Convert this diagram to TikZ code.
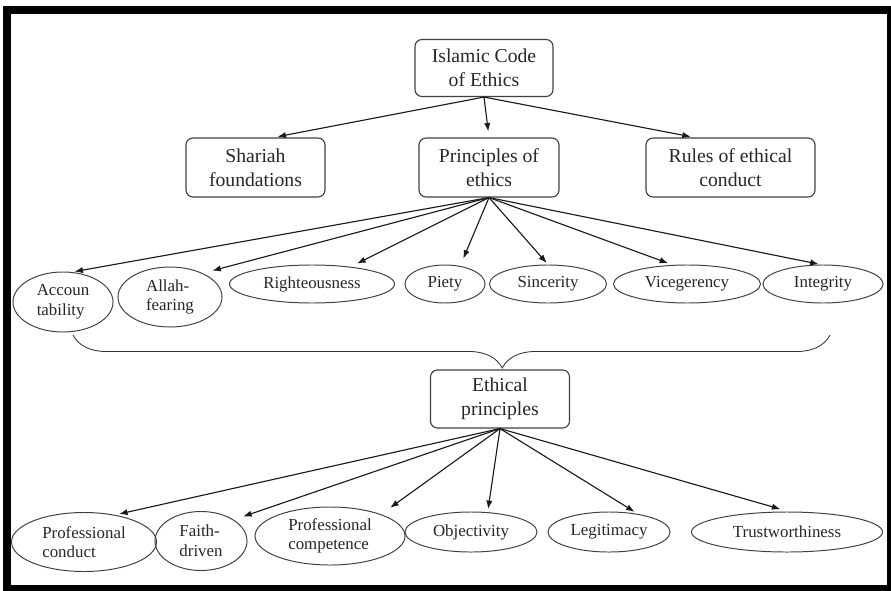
\documentclass[tikz,border=0pt]{standalone}
\usepackage{fontspec}
\setmainfont{Liberation Serif}
\usetikzlibrary{arrows.meta,decorations.pathreplacing,shapes.geometric}

\begin{document}
\begin{tikzpicture}[x=0.025cm, y=-0.025cm,
    box/.style={draw=black!75, line width=0.8pt, rounded corners=5pt, align=center,
                text=black!85, font=\fontsize{14}{17}\selectfont, inner sep=0pt},
    oval/.style={ellipse, draw=black!75, line width=0.7pt, align=left,
                 text=black!85, font=\fontsize{12}{14}\selectfont, inner sep=0pt},
    arr/.style={draw=black!90, line width=0.8pt, -{Latex[length=6pt,width=4.5pt]}}]
                \useasboundingbox (0,0) rectangle (891,590);
                \draw[line width=0.2cm] (7,10) rectangle (891,589);

                \node[box, minimum width=3.45cm, minimum height=1.425cm] (isl) at (484,68) {Islamic Code\\of Ethics};
                \node[box, minimum width=3.475cm, minimum height=1.475cm] (shar) at (255.5,167.5) {Shariah\\foundations};
                \node[box, minimum width=3.5cm, minimum height=1.475cm] (prin) at (489,167.5) {Principles of\\ethics};
                \node[box, minimum width=4.225cm, minimum height=1.475cm] (rules) at (730.5,167.5) {Rules of ethical\\conduct};

                \node[oval, minimum width=2.5cm, minimum height=1.5cm] (acc) at (63,302) {Accoun\\tability};
                \node[oval, minimum width=2.6cm, minimum height=1.5cm] (allah) at (170,297) {Allah-\\fearing};
                \node[oval, minimum width=4.125cm, minimum height=0.95cm] (right) at (312,284) {Righteousness};
                \node[oval, minimum width=2.0cm, minimum height=0.95cm] (piety) at (445,284) {Piety};
                \node[oval, minimum width=2.925cm, minimum height=0.95cm] (sinc) at (548,284) {Sincerity};
                \node[oval, minimum width=3.675cm, minimum height=0.95cm] (vice) at (687,284) {Vicegerency};
                \node[oval, minimum width=3.0cm, minimum height=0.95cm] (integ) at (823,284) {Integrity};

                \coordinate (bl) at (73,335);
                \coordinate (br) at (830,335);
                \draw[black!80, line width=0.6pt, decorate,
                      decoration={brace, mirror, amplitude=0.825cm, aspect=0.567}] (bl) -- (br);

                \node[box, minimum width=3.475cm, minimum height=1.45cm] (eth) at (500,399) {Ethical\\principles};

                \node[oval, minimum width=3.625cm, minimum height=1.475cm] (pcond) at (84,542) {Professional\\conduct};
                \node[oval, minimum width=2.3cm, minimum height=1.475cm] (faith) at (201,541) {Faith-\\driven};
                \node[oval, minimum width=3.75cm, minimum height=1.45cm] (pcomp) at (330,536) {Professional\\competence};
                \node[oval, minimum width=3.3cm, minimum height=1.0cm] (obj) at (471,532) {Objectivity};
                \node[oval, minimum width=3.05cm, minimum height=1.0cm] (legit) at (609,532) {Legitimacy};
                \node[oval, minimum width=4.775cm, minimum height=1.0cm] (trust) at (787,532) {Trustworthiness};

                % top level
                \draw[arr, shorten >=1mm] (isl.south) -- (shar.59);
                \draw[arr, shorten >=1.5mm] (isl.south) -- (prin.north);
                \draw[arr, shorten >=1mm] (isl.south) -- (rules.140);

                % principles of ethics
                \draw[arr, shorten >=0.6mm] (prin.south) -- (acc.73);
                \draw[arr, shorten >=2.5mm] (prin.south) -- (allah.36);
                \draw[arr, shorten >=1.8mm] (prin.south) -- (right.24);
                \draw[arr, shorten >=2mm] (prin.south) -- (piety.50);
                \draw[arr, shorten >=0.5mm] (prin.south) -- (sinc.north);
                \draw[arr, shorten >=1.2mm] (prin.south) -- (vice.127);
                \draw[arr, shorten >=0.5mm] (prin.south) -- (integ.97);

                % ethical principles
                \draw[arr, shorten >=1mm] (eth.south) -- (pcond.41);
                \draw[arr, shorten >=2.5mm] (eth.south) -- (faith.33);
                \draw[arr, shorten >=2.8mm] (eth.south) -- (pcomp.23);
                \draw[arr, shorten >=0.8mm] (eth.south) -- (obj.50);
                \draw[arr, shorten >=1mm] (eth.south) -- (legit.32);
                \draw[arr, shorten >=2.2mm] (eth.south) -- (trust.85);
\end{tikzpicture}
\end{document}
